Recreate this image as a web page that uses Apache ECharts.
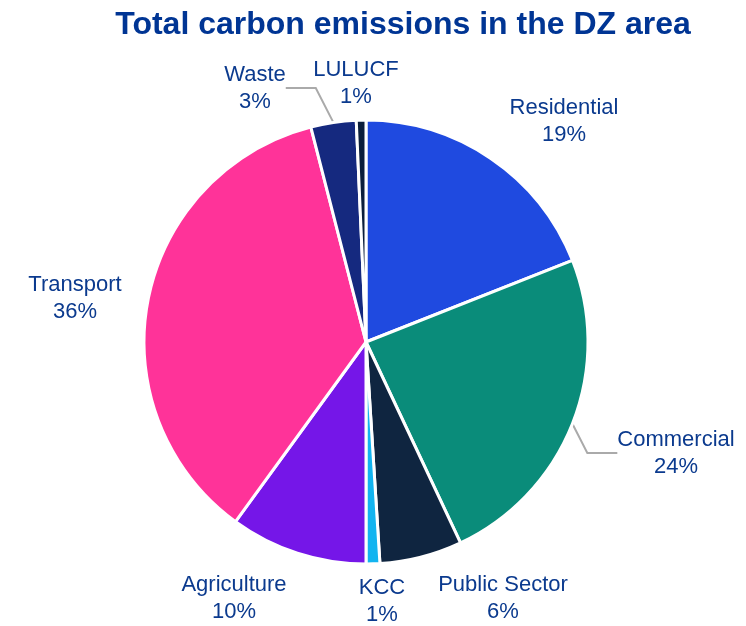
<!DOCTYPE html>
<html>
<head>
<meta charset="utf-8">
<script src="https://cdn.jsdelivr.net/npm/echarts@6/dist/echarts.min.js"></script>
<style>html,body{margin:0;padding:0;background:#fff}#c{width:746px;height:626px}</style>
</head>
<body>
<div id="c"></div>
<script>
const categories = ['Residential', 'Commercial', 'Public Sector', 'KCC', 'Agriculture', 'Transport', 'Waste', 'LULUCF'];
const values = [19, 24, 6, 1, 10, 36, 3.3, 0.7];
const colors = ['#1F4AE0', '#0A8C7A', '#0F2540', '#12B4F0', '#7516E8', '#FF3399', '#15297F', '#0B1E3C'];
const labelPos = [[564, 121], [676, 453], [503, 598], [382, 601], [234, 598], [75, 298], [255, 88], [356, 83]];
const showLine = [false, true, false, false, false, false, true, false];

const chart = echarts.init(document.getElementById('c'));
chart.setOption({
  animation: false,
  title: {
    text: 'Total carbon emissions in the DZ area',
    left: 398, top: 4, textAlign: 'center',
    textStyle: { fontFamily: 'Liberation Sans, Arial', fontSize: 32, fontWeight: 'bold', color: '#003594' }
  },
  series: [{
    type: 'pie',
    center: [366, 342],
    radius: 222,
    startAngle: 90,
    clockwise: true,
    percentPrecision: 0,
    itemStyle: { borderColor: '#fff', borderWidth: 3 },
    label: {
      show: true,
      position: 'outside',
      alignTo: 'none',
      edgeDistance: 0,
      overflow: 'none',
      formatter: '{b}\n{d}%',
      fontFamily: 'Liberation Sans, Arial',
      fontSize: 22,
      lineHeight: 27,
      color: '#0B3A8E',
      align: 'center'
    },
    labelLine: { show: true, lineStyle: { color: '#AAAAAA', width: 2 } },
    labelLayout: function (p) {
      const pos = labelPos[p.dataIndex];
      return { x: pos[0], y: pos[1], align: 'center', verticalAlign: 'middle' };
    },
    data: categories.map((n, i) => ({
      name: n, value: values[i],
      itemStyle: { color: colors[i] },
      labelLine: { show: showLine[i] }
    }))
  }]
});
</script>
</body>
</html>
